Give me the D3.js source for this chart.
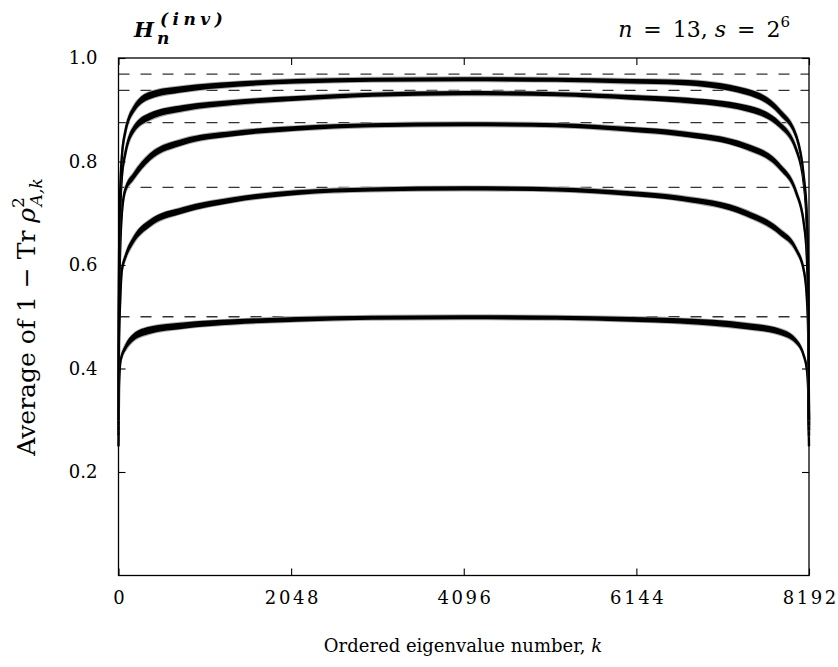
<!DOCTYPE html>
<html>
<head>
<meta charset="utf-8">
<title>Average of 1 - Tr rho^2</title>
<script src="https://d3js.org/d3.v7.min.js"></script>
<style>
    body { margin: 0; background: white; }
    text { font-family: "DejaVu Serif", serif; fill: black; }
</style>
</head>
<body>
<svg id="chart" width="838" height="667"></svg>
<script>
let kSamples = [0, 6, 20, 40, 80, 176, 374, 769, 1362, 2114, 3000, 4096, 5200, 6078, 6660, 7446, 7845, 8043, 8130, 8165, 8182, 8192];

// curve centres, one list per plateau (lowest first)
let curveHalf   = [0.25, 0.36, 0.41, 0.425, 0.44, 0.46, 0.474, 0.483, 0.490, 0.495, 0.498, 0.499, 0.498, 0.495, 0.492, 0.482, 0.471, 0.452, 0.425, 0.40, 0.36, 0.25];
let curveThree4 = [0.27, 0.45, 0.53, 0.59, 0.615, 0.648, 0.681, 0.706, 0.726, 0.740, 0.746, 0.748, 0.746, 0.738, 0.729, 0.700, 0.664, 0.629, 0.590, 0.54, 0.47, 0.27];
let curveSeven8 = [0.28, 0.52, 0.63, 0.70, 0.745, 0.771, 0.809, 0.838, 0.854, 0.864, 0.870, 0.872, 0.870, 0.862, 0.854, 0.829, 0.790, 0.739, 0.681, 0.62, 0.52, 0.28];
let curve15of16 = [0.29, 0.56, 0.70, 0.77, 0.815, 0.861, 0.887, 0.903, 0.914, 0.922, 0.929, 0.932, 0.930, 0.924, 0.919, 0.903, 0.871, 0.822, 0.758, 0.68, 0.57, 0.29];
let curve31of32 = [0.30, 0.60, 0.74, 0.81, 0.857, 0.900, 0.928, 0.940, 0.949, 0.955, 0.958, 0.959, 0.958, 0.955, 0.953, 0.935, 0.896, 0.848, 0.771, 0.70, 0.59, 0.30];

// half thickness of the noisy band around each curve
let noiseHalf = [0, 0.001, 0.002, 0.004, 0.006, 0.007, 0.007, 0.006, 0.005, 0.0045, 0.004, 0.004, 0.004, 0.0045, 0.005, 0.006, 0.006, 0.005, 0.003, 0.002, 0.001, 0];

// dashed reference levels
let plateaus = [0.5, 0.75, 0.875, 0.9375, 0.96875];

let xTicks = [0, 2048, 4096, 6144, 8192];
let yTicks = [0.2, 0.4, 0.6, 0.8, 1.0];

let svg = d3.select("#chart");
let plotL = 118.5, plotR = 809, plotT = 58, plotB = 575.5;

let x = d3.scaleLinear().domain([0, 8192]).range([plotL, plotR]);
let y = d3.scaleLinear().domain([0, 1]).range([plotB, plotT]);

// dashed plateau lines
svg.append("g")
    .selectAll("line")
    .data(plateaus)
    .enter()
    .append("line")
    .attr("x1", x(0))
    .attr("x2", x(8192))
    .attr("y1", d => y(d))
    .attr("y2", d => y(d))
    .attr("stroke", "#333")
    .attr("stroke-width", 1.3)
    .attr("stroke-dasharray", "11,11");

let curves = [curveHalf, curveThree4, curveSeven8, curve15of16, curve31of32];

let band = d3.area()
    .x((d, i) => x(kSamples[i]))
    .y0((d, i) => y(d - noiseHalf[i]))
    .y1((d, i) => y(d + noiseHalf[i]))
    .curve(d3.curveMonotoneX);

let line = d3.line()
    .x((d, i) => x(kSamples[i]))
    .y(d => y(d))
    .curve(d3.curveMonotoneX);

let curveG = svg.append("g");
curves.forEach(c => {
    // soft grey fringe of the noise
    curveG.append("path")
        .attr("d", band(c))
        .attr("fill", "#777")
        .attr("stroke", "#aaa")
        .attr("stroke-width", 1.8)
        .attr("stroke-linejoin", "round");
    curveG.append("path")
        .attr("d", band(c))
        .attr("fill", "black");
    curveG.append("path")
        .attr("d", line(c))
        .attr("fill", "none")
        .attr("stroke", "black")
        .attr("stroke-width", 2.4);
});

// frame
svg.append("rect")
    .attr("x", plotL)
    .attr("y", plotT)
    .attr("width", plotR - plotL)
    .attr("height", plotB - plotT)
    .attr("fill", "none")
    .attr("stroke", "black")
    .attr("stroke-width", 1.3);

// axes, ticks pointing inward
function styleAxis(g) {
    g.select(".domain").remove();
    g.selectAll(".tick line").attr("stroke", "black").attr("stroke-width", 1.1);
    g.selectAll("text").attr("font-family", "Liberation Serif").attr("font-size", 18).attr("fill", "black");
}

svg.append("g")
    .attr("transform", `translate(${plotL},0)`)
    .call(d3.axisLeft(y).tickValues(yTicks).tickSize(-7).tickPadding(21).tickFormat(d3.format(".1f")))
    .call(styleAxis);

svg.append("g")
    .attr("transform", `translate(${plotR},0)`)
    .call(d3.axisRight(y).tickValues(yTicks).tickSize(-7).tickFormat(""))
    .call(styleAxis);

svg.append("g")
    .attr("transform", `translate(0,${plotB})`)
    .call(d3.axisBottom(x).tickValues(xTicks).tickSize(-7).tickPadding(16).tickFormat(d3.format("d")))
    .call(styleAxis)
    .selectAll("text").attr("letter-spacing", 2.6).attr("dx", 1.3);

svg.append("g")
    .attr("transform", `translate(0,${plotT})`)
    .call(d3.axisTop(x).tickValues(xTicks).tickSize(-7).tickFormat(""))
    .call(styleAxis);

// axis titles
svg.append("text")
    .attr("x", 463)
    .attr("y", 652)
    .attr("text-anchor", "middle")
    .attr("font-size", 18)
    .html('Ordered eigenvalue number, <tspan font-style="italic">k</tspan>');

let ylab = svg.append("text")
    .attr("transform", "translate(35,317) rotate(-90)")
    .attr("text-anchor", "middle")
    .attr("font-size", 25);
ylab.append("tspan").text("Average of 1 \u2212 Tr ");
ylab.append("tspan").attr("font-style", "italic").text("\u03c1");
ylab.append("tspan").attr("font-size", 17).attr("dy", -11).text("2");
ylab.append("tspan").attr("font-size", 17).attr("dx", -9).attr("dy", 18).attr("font-style", "italic").text("A,k");

// top-left title H_n^(inv)
svg.append("text")
    .attr("x", 134).attr("y", 37)
    .attr("font-size", 21).attr("font-weight", "bold").attr("font-style", "italic")
    .text("H");
svg.append("text")
    .attr("x", 160).attr("y", 25)
    .attr("font-size", 17).attr("font-weight", "bold").attr("font-style", "italic")
    .attr("letter-spacing", 4.5)
    .text("(inv)");
svg.append("text")
    .attr("x", 157).attr("y", 44)
    .attr("font-size", 17).attr("font-weight", "bold").attr("font-style", "italic")
    .text("n");

// top-right parameters
let params = svg.append("text")
    .attr("x", 790).attr("y", 37)
    .attr("text-anchor", "end")
    .attr("font-size", 22);
params.append("tspan").attr("font-style", "italic").text("n");
params.append("tspan").text("\u2002=\u200213, ");
params.append("tspan").attr("font-style", "italic").text("s");
params.append("tspan").text("\u2002=\u20022");
params.append("tspan").attr("font-size", 15).attr("dy", -10).text("6");
</script>
</body>
</html>
